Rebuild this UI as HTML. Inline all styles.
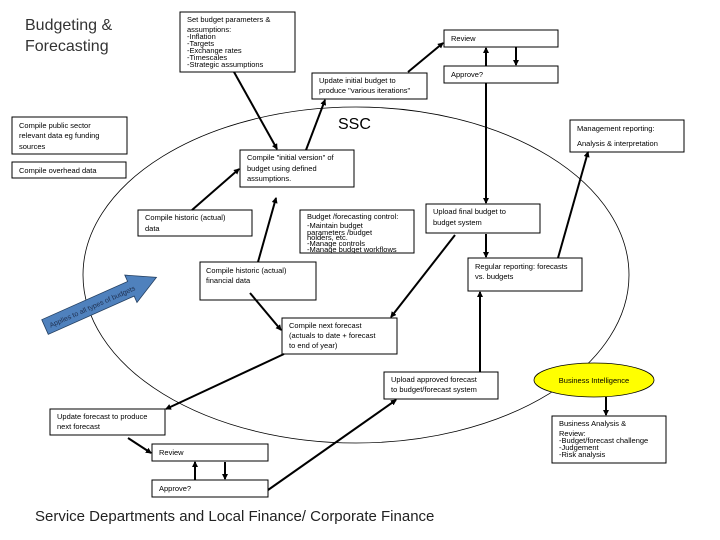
<!DOCTYPE html>
<html><head><meta charset="utf-8"><style>
html,body{margin:0;padding:0;background:#fff}
svg{display:block}
text{font-family:"Liberation Sans",sans-serif;font-size:7.5px;fill:#000}
.b{fill:#fff;stroke:#000;stroke-width:1}
.a{stroke:#000;stroke-width:2;fill:none;marker-end:url(#ah)}
</style></head><body>
<svg width="720" height="540" viewBox="0 0 720 540" xmlns="http://www.w3.org/2000/svg">
<defs><marker id="ah" markerWidth="6" markerHeight="6" refX="5" refY="3" orient="auto" markerUnits="userSpaceOnUse"><path d="M0,0 L6,3 L0,6 z" fill="#000"/></marker></defs>
<ellipse cx="356" cy="275" rx="273" ry="168" fill="none" stroke="#000" stroke-width="0.8"/>

<text x="25" y="30" style="font-size:16px;fill:#333">Budgeting &amp;</text>
<text x="25" y="51" style="font-size:16px;fill:#333">Forecasting</text>
<text x="338" y="129" style="font-size:16px">SSC</text>
<text x="35" y="521" style="font-size:15px;fill:#222">Service Departments and Local Finance/ Corporate Finance</text>

<g transform="translate(45,327) rotate(-24)">
<path d="M0,-8 L94,-8 L94,-15 L122,0 L94,15 L94,8 L0,8 z" fill="#4f81bd" stroke="#243f60" stroke-width="0.8"/>
<text x="5" y="3" style="font-size:7px;fill:#1f3050">Applies to all types of budgets</text>
</g>

<rect class="b" x="180" y="12" width="115" height="60"/>
<text x="187" y="22">Set budget parameters &amp;</text>
<text x="187" y="32">assumptions:</text>
<text x="187" y="39">-Inflation</text>
<text x="187" y="46">-Targets</text>
<text x="187" y="53">-Exchange rates</text>
<text x="187" y="60">-Timescales</text>
<text x="187" y="67">-Strategic assumptions</text>

<rect class="b" x="444" y="30" width="114" height="17"/><text x="451" y="41">Review</text>
<rect class="b" x="444" y="66" width="114" height="17"/><text x="451" y="77">Approve?</text>
<rect class="b" x="312" y="73" width="115" height="26"/>
<text x="319" y="83">Update initial budget to</text><text x="319" y="93">produce "various iterations"</text>

<rect class="b" x="12" y="117" width="115" height="37"/>
<text x="19" y="128">Compile public sector</text><text x="19" y="138">relevant data eg funding</text><text x="19" y="149">sources</text>
<rect class="b" x="12" y="162" width="114" height="16"/><text x="19" y="173">Compile overhead data</text>

<rect class="b" x="240" y="150" width="114" height="37"/>
<text x="247" y="160">Compile "initial version" of</text><text x="247" y="171">budget using defined</text><text x="247" y="181">assumptions.</text>

<rect class="b" x="570" y="120" width="114" height="32"/>
<text x="577" y="131">Management reporting:</text><text x="577" y="146">Analysis &amp; interpretation</text>

<rect class="b" x="138" y="210" width="114" height="26"/>
<text x="145" y="220">Compile historic (actual)</text><text x="145" y="231">data</text>

<rect class="b" x="300" y="210" width="114" height="43"/>
<text x="307" y="219">Budget /forecasting control:</text>
<text x="307" y="228">-Maintain budget</text>
<text x="307" y="235">parameters /budget</text>
<text x="307" y="240">holders, etc.</text>
<text x="307" y="246">-Manage controls</text>
<text x="307" y="252">-Manage budget workflows</text>

<rect class="b" x="426" y="204" width="114" height="29"/>
<text x="433" y="214">Upload final budget to</text><text x="433" y="225">budget system</text>

<rect class="b" x="468" y="258" width="114" height="33"/>
<text x="475" y="269">Regular reporting: forecasts</text><text x="475" y="279">vs. budgets</text>

<rect class="b" x="200" y="262" width="116" height="38"/>
<text x="206" y="273">Compile historic (actual)</text><text x="206" y="283">financial data</text>

<rect class="b" x="282" y="318" width="115" height="36"/>
<text x="289" y="328">Compile next forecast</text><text x="289" y="338">(actuals to date + forecast</text><text x="289" y="348">to end of year)</text>

<rect class="b" x="384" y="372" width="114" height="27"/>
<text x="391" y="382">Upload approved forecast</text><text x="391" y="392">to budget/forecast system</text>

<ellipse cx="594" cy="380" rx="60" ry="17" fill="#ffff00" stroke="#000" stroke-width="0.8"/>
<text x="594" y="383" text-anchor="middle">Business Intelligence</text>

<rect class="b" x="552" y="416" width="114" height="47"/>
<text x="559" y="426">Business Analysis &amp;</text><text x="559" y="436">Review:</text>
<text x="559" y="443">-Budget/forecast challenge</text><text x="559" y="450">-Judgement</text><text x="559" y="457">-Risk analysis</text>

<rect class="b" x="50" y="409" width="115" height="26"/>
<text x="57" y="419">Update forecast to produce</text><text x="57" y="429">next forecast</text>
<rect class="b" x="152" y="444" width="116" height="17"/><text x="159" y="455">Review</text>
<rect class="b" x="152" y="480" width="116" height="17"/><text x="159" y="491">Approve?</text>

<line class="a" x1="234" y1="72" x2="277" y2="149"/>
<line class="a" x1="306" y1="150" x2="325" y2="100"/>
<line class="a" x1="408" y1="72" x2="443" y2="43"/>
<line class="a" x1="486" y1="66" x2="486" y2="48"/>
<line class="a" x1="516" y1="47" x2="516" y2="65"/>
<line class="a" x1="486" y1="83" x2="486" y2="203"/>
<line class="a" x1="486" y1="234" x2="486" y2="257"/>
<line class="a" x1="558" y1="258" x2="588" y2="152"/>
<line class="a" x1="192" y1="210" x2="239" y2="169"/>
<line class="a" x1="258" y1="262" x2="276" y2="198"/>
<line class="a" x1="455" y1="235" x2="391" y2="317"/>
<line class="a" x1="250" y1="293" x2="281" y2="330"/>
<line class="a" x1="284" y1="354" x2="166" y2="409"/>
<line class="a" x1="128" y1="438" x2="151" y2="453"/>
<line class="a" x1="195" y1="480" x2="195" y2="462"/>
<line class="a" x1="225" y1="462" x2="225" y2="479"/>
<line class="a" x1="268" y1="490" x2="396" y2="400"/>
<line class="a" x1="480" y1="372" x2="480" y2="292"/>
<line class="a" x1="606" y1="397" x2="606" y2="415"/>
</svg>
</body></html>
